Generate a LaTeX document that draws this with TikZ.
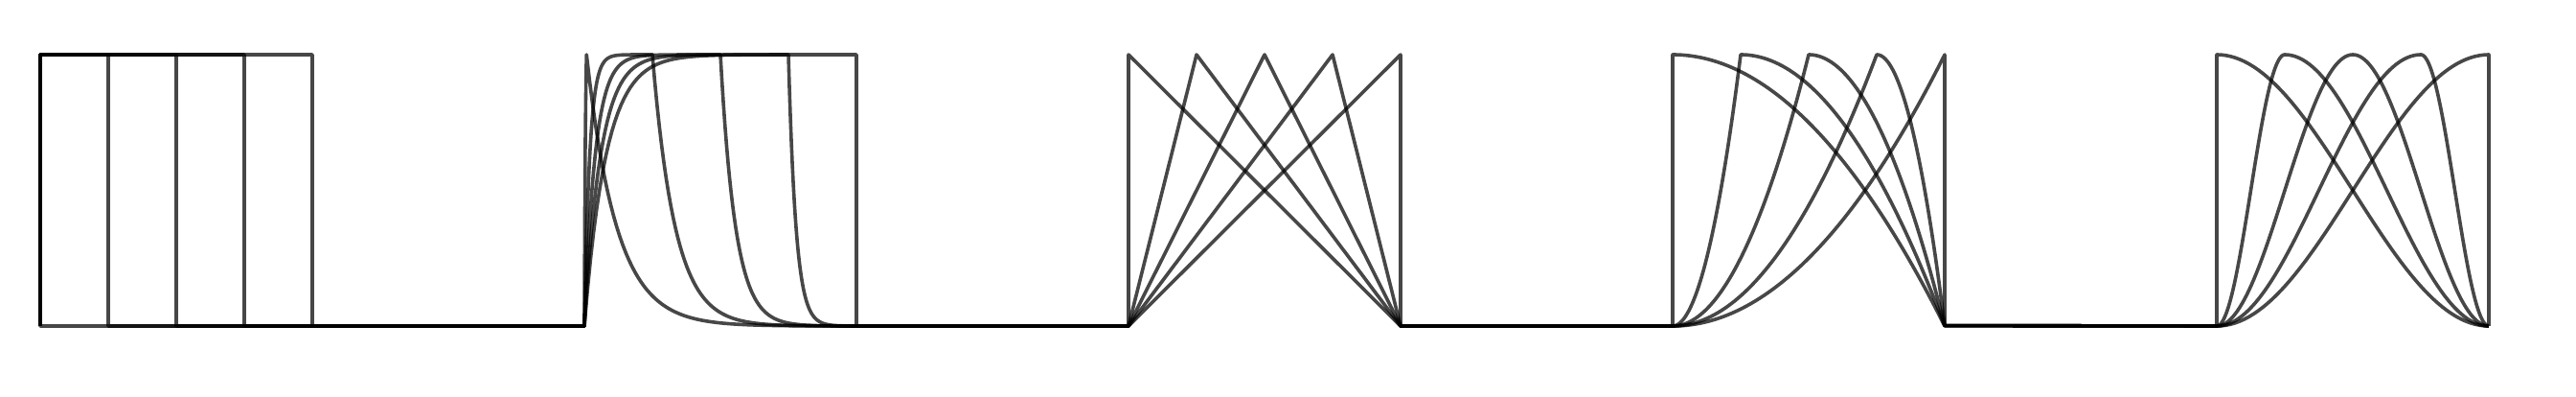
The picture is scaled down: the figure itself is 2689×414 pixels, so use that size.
\documentclass[tikz,border=0pt]{standalone}
\tikzset{curve/.style={draw=black, draw opacity=0.72, line width=3.6pt, line join=round}}
\begin{document}
\begin{tikzpicture}[x=284pt,y=283pt]
\useasboundingbox (-42pt,-74pt) rectangle (2647pt,340pt);
\foreach \k in {0,...,4}{
  \pgfmathsetmacro\p{\k/4}
  \pgfmathsetmacro\pa{max(\p,0.008)}
  \pgfmathsetmacro\R{\k==0 ? 2 : 12.5}
  \draw[curve] (0,0) -- (0,1) -- (\p,1) -- (\p,0) -- (2,0)
    -- plot[variable=\s, domain=0:1, samples=90] ({2+\pa*\s},{(1-exp(-\R*\s))/(1-exp(-\R))})
    -- plot[variable=\s, domain=0:1, samples=90] ({2+\pa+(1-\pa)*\s},{(exp(-9*\s)-exp(-9))/(1-exp(-9))})
    -- (4,0) -- ({4+\p},1) -- (5,0) -- (6,0)
    -- plot[variable=\s, domain=0:1, samples=60] ({6+\p*\s},{\s*\s})
    -- plot[variable=\s, domain=0:1, samples=60] ({6+\p+(1-\p)*\s},{1-\s*\s})
    -- (8,0)
    -- plot[variable=\s, domain=0:1, samples=60] ({8+\p*\s},{(1-cos(180*\s))/2})
    -- plot[variable=\s, domain=0:1, samples=60] ({8+\p+(1-\p)*\s},{(1+cos(180*\s))/2});
}
\end{tikzpicture}
\end{document}
